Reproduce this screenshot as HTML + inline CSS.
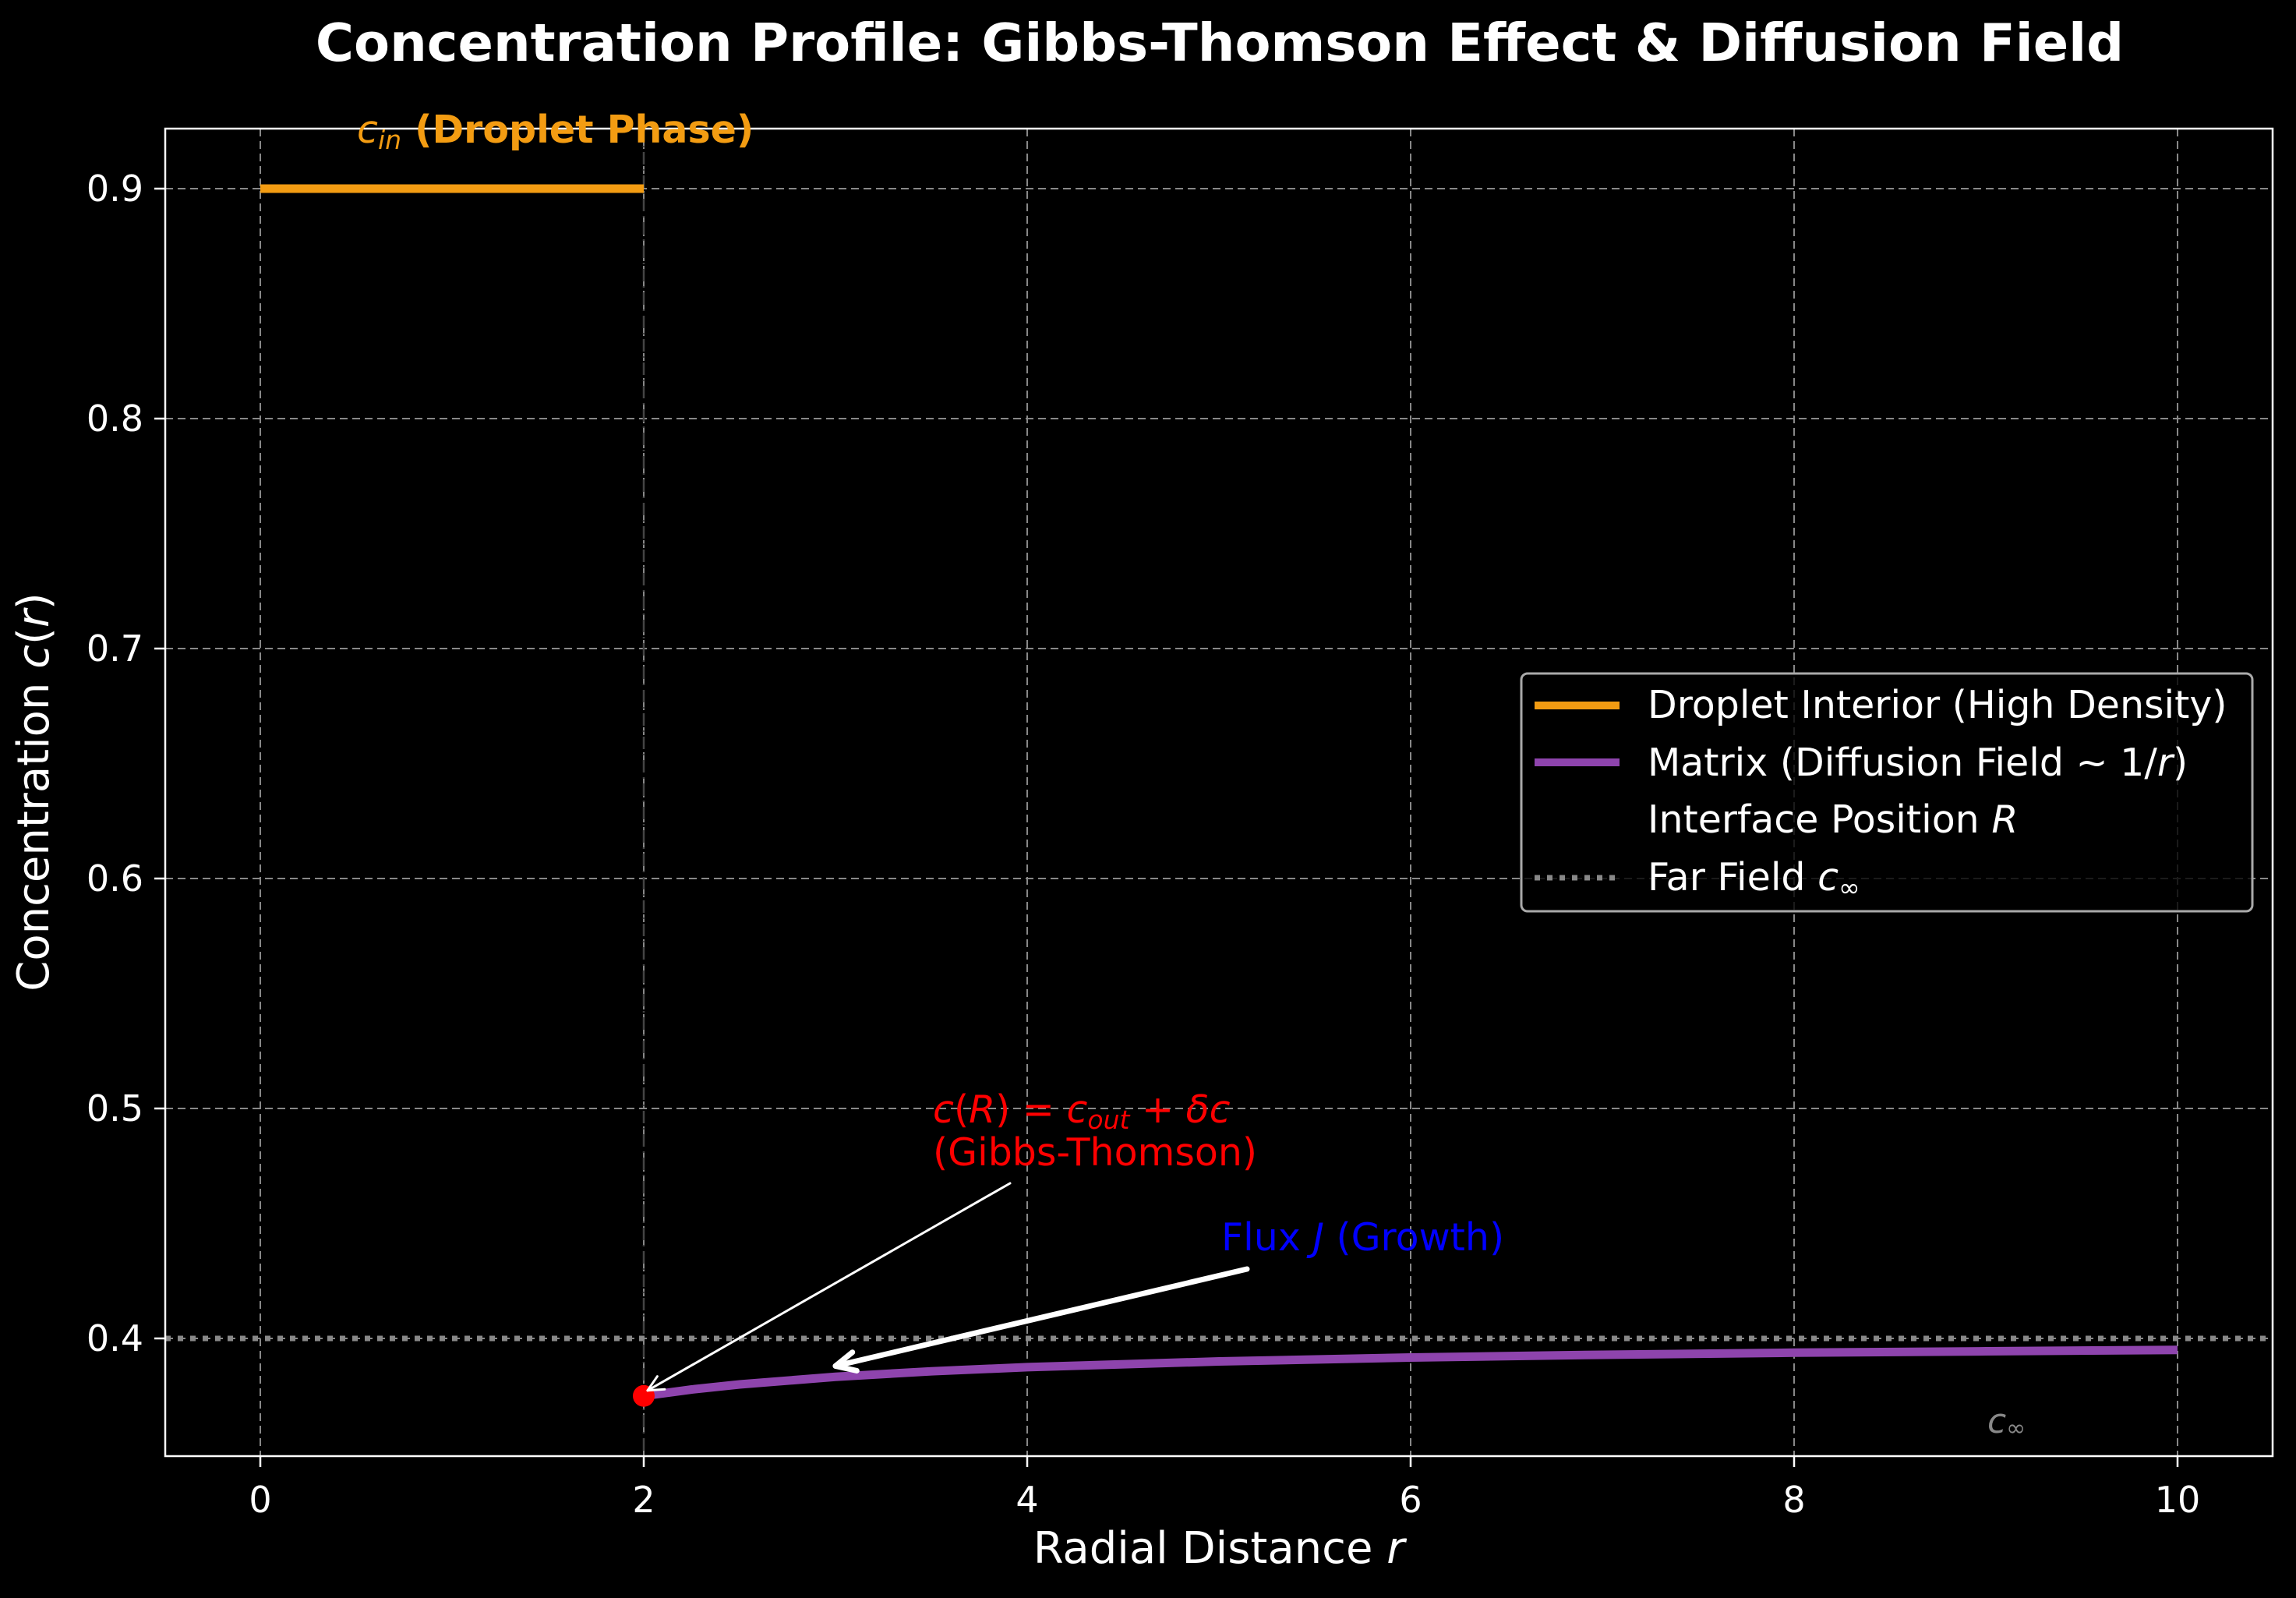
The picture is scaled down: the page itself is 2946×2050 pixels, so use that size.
<!DOCTYPE html>
<html><head><meta charset="utf-8"><style>
html,body{margin:0;padding:0;background:#000;}
svg{display:block;font-family:"DejaVu Sans","Liberation Sans",sans-serif;}
</style></head><body>
<svg id="chart" width="2946" height="2050" viewBox="0 0 2946 2050" xmlns="http://www.w3.org/2000/svg">
<rect width="2946" height="2050" fill="#000"/>
<g id="grid"></g>
<g id="marks"></g>
<rect x="212" y="165" width="2704" height="1703" fill="none" stroke="#fff" stroke-width="2.5"/>
<g id="ticks"></g>
<text x="1565" y="78" fill="#fff" font-size="67" font-weight="bold" text-anchor="middle">Concentration Profile: Gibbs-Thomson Effect &amp; Diffusion Field</text>
<text x="1564" y="2005" fill="#fff" font-size="56" text-anchor="middle">Radial Distance <tspan font-style="italic">r</tspan></text>
<text transform="translate(62,1016) rotate(-90)" fill="#fff" font-size="56" text-anchor="middle">Concentration <tspan font-style="italic">c</tspan>(<tspan font-style="italic">r</tspan>)</text>
<g id="annot"></g>
<g>
<rect x="1952" y="864" width="938" height="305" rx="8" fill="#000" fill-opacity="0.8" stroke="#aaa" stroke-width="3"/>
<line x1="1969" y1="905" x2="2078" y2="905" stroke="#f39c12" stroke-width="10"/>
<text x="2114" y="921" fill="#fff" font-size="49">Droplet Interior (High Density)</text>
<line x1="1969" y1="978" x2="2078" y2="978" stroke="#8e44ad" stroke-width="10"/>
<text x="2114" y="995" fill="#fff" font-size="49">Matrix (Diffusion Field ~ 1/<tspan font-style="italic">r</tspan>)</text>
<text x="2114" y="1068" fill="#fff" font-size="49">Interface Position <tspan font-style="italic">R</tspan></text>
<line x1="1969" y1="1126" x2="2078" y2="1126" stroke="#888" stroke-width="7" stroke-dasharray="7 9"/>
<text x="2114" y="1142" fill="#fff" font-size="49">Far Field <tspan font-style="italic">c</tspan><tspan font-size="33" dy="8">∞</tspan></text>
</g>
<script>
const xTicks=[0,2,4,6,8,10];
const yTicks=[0.4,0.5,0.6,0.7,0.8,0.9];
const yTickLabels=["0.4","0.5","0.6","0.7","0.8","0.9"];
const dropletR=[0,2];
const dropletC=[0.9,0.9];
const matrixR=[2,2.25,2.5,3,3.5,4,5,6,7,8,9,10];
const matrixC=[0.375,0.3778,0.38,0.3833,0.3857,0.3875,0.39,0.3917,0.3929,0.3938,0.3944,0.395];
const interfaceR=[2];
const farFieldC=[0.4];
const NS="http://www.w3.org/2000/svg";
function X(v){return 334+(v-0)*246;}
function Y(v){return 1717-(v-0.4)*2950;}
function mk(tag,attrs,parent){const e=document.createElementNS(NS,tag);for(const k in attrs)e.setAttribute(k,attrs[k]);document.getElementById(parent).appendChild(e);return e;}
xTicks.forEach(t=>{
 const g=mk('line',{x1:X(t),x2:X(t),y1:165,y2:1868,stroke:'#888','stroke-width':2,'stroke-dasharray':'10 6'},'grid');
 
 
 const tk=mk('line',{x1:X(t),x2:X(t),y1:1868,y2:1882,stroke:'#fff','stroke-width':2.5},'ticks');
 
 
 const tl=mk('text',{x:X(t),y:1940,fill:'#fff','font-size':46,'text-anchor':'middle'},'ticks');
 tl.textContent=String(t);
 
 
});
yTicks.forEach((t,i)=>{
 const g=mk('line',{x1:212,x2:2916,y1:Y(t),y2:Y(t),stroke:'#888','stroke-width':2,'stroke-dasharray':'10 6'},'grid');
 
 
 const tk=mk('line',{x1:198,x2:212,y1:Y(t),y2:Y(t),stroke:'#fff','stroke-width':2.5},'ticks');
 
 
 const tl=mk('text',{x:184,y:Y(t)+16,fill:'#fff','font-size':46,'text-anchor':'end'},'ticks');
 tl.textContent=yTickLabels[i];
 
 
});
interfaceR.forEach(r=>{
 const l=mk('line',{x1:X(r),x2:X(r),y1:165,y2:1868,stroke:'#444','stroke-width':2.5,'stroke-dasharray':'16 6 2 6'},'marks');
 
 
});
farFieldC.forEach(c=>{
 const l=mk('line',{x1:212,x2:2916,y1:Y(c),y2:Y(c),stroke:'#888','stroke-width':7,'stroke-dasharray':'7 9'},'marks');
 
 
});
const dp=mk('polyline',{points:dropletR.map((r,i)=>X(r)+','+Y(dropletC[i])).join(' '),fill:'none',stroke:'#f39c12','stroke-width':11},'marks');


const mp=mk('polyline',{points:matrixR.map((r,i)=>X(r)+','+Y(matrixC[i])).join(' '),fill:'none',stroke:'#8e44ad','stroke-width':11},'marks');


const dot=mk('circle',{cx:X(matrixR[0]),cy:Y(matrixC[0]),r:14,fill:'#ff0000'},'marks');


function arrow(x1,y1,x2,y2,w,name){
 const l=mk('line',{x1:x1,y1:y1,x2:x2,y2:y2,stroke:'#fff','stroke-width':w,'stroke-linecap':'round'},'annot');
 
 
 const a=Math.atan2(y1-y2,x1-x2),L=w>3?28:22,s=0.45;
 const p=mk('polyline',{points:(x2+L*Math.cos(a+s))+','+(y2+L*Math.sin(a+s))+' '+x2+','+y2+' '+(x2+L*Math.cos(a-s))+','+(y2+L*Math.sin(a-s)),fill:'none',stroke:'#fff','stroke-width':w,'stroke-linecap':'round','stroke-linejoin':'round'},'annot');
 
 
}
arrow(1296,1518,X(2.02),Y(0.376)-4,3,'gibbs-arrow');
arrow(1600,1628,X(3.0),Y(0.388),7,'flux-arrow');
</script>
<text x="458" y="183" fill="#f39c12" font-size="49"><tspan font-style="italic">c</tspan><tspan font-style="italic" font-size="33" dy="8">in</tspan><tspan dy="-8" font-weight="bold"> (Droplet Phase)</tspan></text>
<text x="1197" y="1440" fill="#ff0000" font-size="49"><tspan font-style="italic">c</tspan>(<tspan font-style="italic">R</tspan>) = <tspan font-style="italic">c</tspan><tspan font-style="italic" font-size="33" dy="8">out</tspan><tspan dy="-8"> + </tspan><tspan font-style="italic">δc</tspan></text>
<text x="1197" y="1495" fill="#ff0000" font-size="49">(Gibbs-Thomson)</text>
<text x="1567" y="1604" fill="#0000ff" font-size="49">Flux <tspan font-style="italic">J</tspan> (Growth)</text>
<text x="2550" y="1838" fill="#888" font-size="44"><tspan font-style="italic">c</tspan><tspan font-size="30" dy="4">∞</tspan></text>
</svg>
</body></html>
